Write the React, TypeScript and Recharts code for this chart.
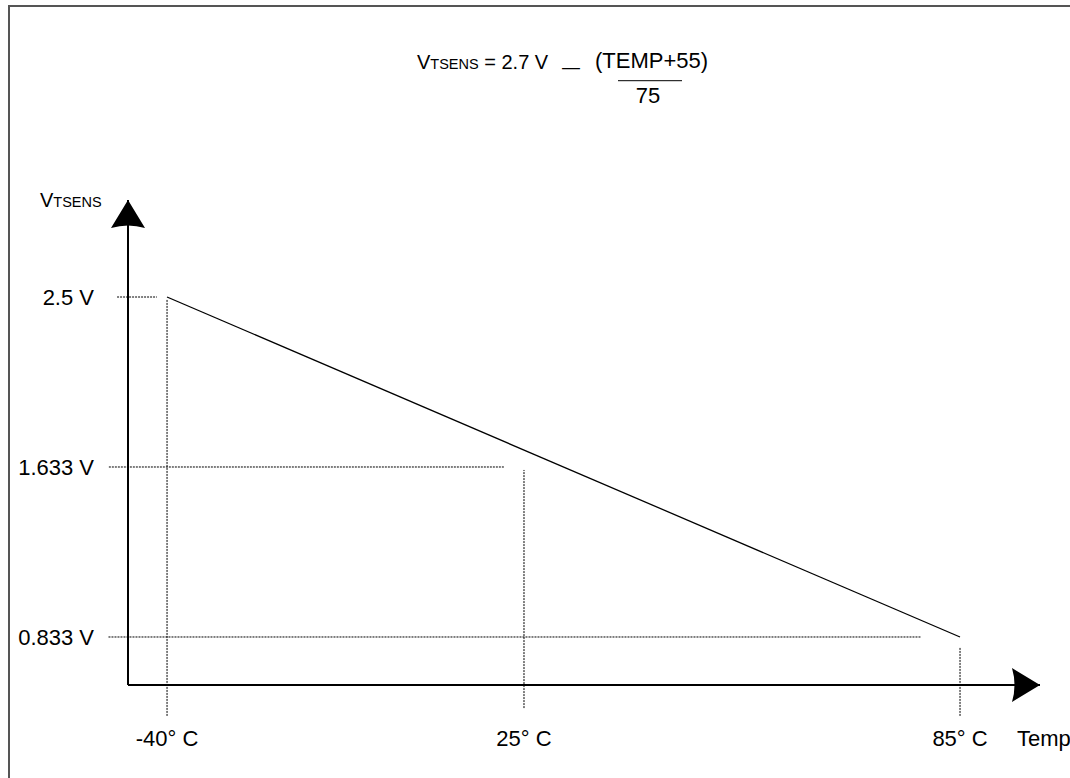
import { LineChart, Line, XAxis, YAxis, ReferenceLine } from "recharts";

// sensor output at both ends of the operating range
const temps = [-40, 85];
const volts = [2.5, 0.833];

// values marked on the axes
const tempTicks = [-40, 25, 85];
const voltTicks = [0.833, 1.633, 2.5];

// dotted guide lines, in data units
const hGuides = [
  { y: 2.5, from: -52.8, to: -42.6 },
  { y: 1.633, from: -54.9, to: 21.5 },
  { y: 0.833, from: -55, to: 79.6 },
];
const vGuides = [
  { x: -40, from: 0.45, to: 2.49 },
  { x: 25, from: 0.488, to: 1.619 },
  { x: 85, from: 0.45, to: 0.78 },
];

const data = temps.map((t, i) => ({ temp: t, v: volts[i] }));

// the drawing is a sketch, not to scale: piecewise linear axes through the marked values
const xKnots = [-50, -40, 25, 85, 100];
const xStops = [0, 0.0428, 0.4342, 0.9123, 1];
const yKnots = [0.6, 0.833, 1.633, 2.5, 3];
const yStops = [0, 0.099, 0.4495, 0.8, 1];

function sketchScale(knots: number[], stops: number[]): any {
  let dom = [knots[0], knots[knots.length - 1]];
  let rng = [0, 1];
  const frac = (v: number) => {
    let i = 0;
    while (i < knots.length - 2 && v > knots[i + 1]) i++;
    const t = (v - knots[i]) / (knots[i + 1] - knots[i]);
    return stops[i] + t * (stops[i + 1] - stops[i]);
  };
  const s: any = (v: number) => rng[0] + frac(v) * (rng[1] - rng[0]);
  s.domain = (d?: number[]) => {
    if (d === undefined) return dom.slice();
    dom = d.slice();
    return s;
  };
  s.range = (r?: number[]) => {
    if (r === undefined) return rng.slice();
    rng = r.slice();
    return s;
  };
  s.copy = () => sketchScale(knots, stops).domain(dom).range(rng);
  s.ticks = () => knots.slice(1, -1);
  s.tickFormat = () => (v: number) => String(v);
  s.nice = () => s;
  s.clamp = () => s;
  s.invert = (p: number) => {
    const f = (p - rng[0]) / (rng[1] - rng[0]);
    let i = 0;
    while (i < stops.length - 2 && f > stops[i + 1]) i++;
    const t = (f - stops[i]) / (stops[i + 1] - stops[i]);
    return knots[i] + t * (knots[i + 1] - knots[i]);
  };
  return s;
}

const xScale = sketchScale(xKnots, xStops);
const yScale = sketchScale(yKnots, yStops);

const font = '"Liberation Sans", Arial, sans-serif';

export default function App() {
  return (
    <div
      style={{
        position: "absolute",
        top: 5,
        left: 8,
        width: 1062,
        height: 773,
        boxSizing: "border-box",
        borderTop: "2px solid #555",
        borderLeft: "2px solid #555",
        fontFamily: font,
        overflow: "hidden",
      }}
    >
      <svg width={0} height={0} style={{ position: "absolute" }}>
        <defs>
          <marker
            id="axisArrow"
            viewBox="0 0 28 34"
            refX={28}
            refY={17}
            markerWidth={28}
            markerHeight={34}
            markerUnits="userSpaceOnUse"
            orient="auto-start-reverse"
          >
            <path d="M0,0 L28,17 L0,34 Q5,17 0,0 Z" fill="#000" />
          </marker>
        </defs>
      </svg>
      <LineChart
        width={1060}
        height={771}
        data={data}
        margin={{ top: 193, right: 30, bottom: 33, left: 18 }}
      >
        <XAxis
          dataKey="temp"
          type="number"
          scale={xScale}
          domain={[xKnots[0], xKnots[xKnots.length - 1]]}
          allowDataOverflow
          ticks={tempTicks}
          interval={0}
          tickFormatter={(v: number) => `${v}° C`}
          tickLine={false}
          tickMargin={39}
          height={60}
          stroke="#000"
          axisLine={{ stroke: "#000", strokeWidth: 2, markerEnd: "url(#axisArrow)" }}
          tick={{ fill: "#000", fontSize: 22 }}
          label={{
            content: () => (
              <text x={1007} y={739} fontSize={22} fill="#000">
                Temp
              </text>
            ),
          }}
        />
        <YAxis
          dataKey="v"
          type="number"
          scale={yScale}
          domain={[yKnots[0], yKnots[yKnots.length - 1]]}
          allowDataOverflow
          ticks={voltTicks}
          interval={0}
          tickFormatter={(v: number) => `${v} V`}
          tickLine={false}
          tickMargin={28}
          width={100}
          stroke="#000"
          axisLine={{ stroke: "#000", strokeWidth: 2, markerStart: "url(#axisArrow)" }}
          tick={{ fill: "#000", fontSize: 22 }}
          label={{
            content: () => (
              <text x={30} y={200} fontSize={20} fill="#000">
                V<tspan fontSize={14.5}>TSENS</tspan>
              </text>
            ),
          }}
        />
        {hGuides.map((g) => (
          <ReferenceLine
            key={`h${g.y}`}
            segment={[
              { x: g.from, y: g.y },
              { x: g.to, y: g.y },
            ]}
            stroke="#000"
            strokeWidth={1}
            strokeDasharray="2 1"
            ifOverflow="visible"
          />
        ))}
        {vGuides.map((g) => (
          <ReferenceLine
            key={`v${g.x}`}
            segment={[
              { x: g.x, y: g.from },
              { x: g.x, y: g.to },
            ]}
            stroke="#000"
            strokeWidth={1}
            strokeDasharray="2 1"
            ifOverflow="visible"
          />
        ))}
        <Line
          dataKey="v"
          stroke="#000"
          strokeWidth={1.3}
          dot={false}
          activeDot={false}
          isAnimationActive={false}
        />
        <text x={407} y={62} fontSize={20} fill="#000" fontFamily={font}>
          V<tspan fontSize={14.5}>TSENS</tspan>
          <tspan> = 2.7 V</tspan>
        </text>
        <text x={552} y={67} fontSize={20} fill="#000" fontFamily={font} textLength={18} lengthAdjust="spacingAndGlyphs">
          –
        </text>
        <text x={641.5} y={61} fontSize={22} fill="#000" fontFamily={font} textAnchor="middle">
          (TEMP+55)
        </text>
        <line x1={608} x2={672} y1={73.7} y2={73.7} stroke="#000" strokeWidth={1} />
        <text x={638} y={96} fontSize={22} fill="#000" fontFamily={font} textAnchor="middle">
          75
        </text>
      </LineChart>
    </div>
  );
}
